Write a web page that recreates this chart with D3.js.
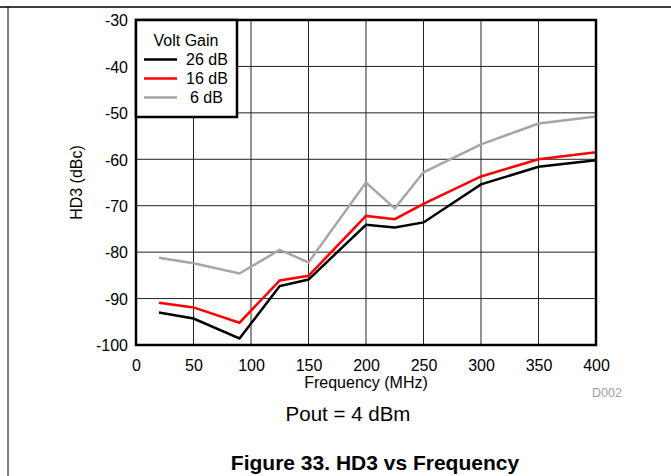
<!DOCTYPE html>
<html><head><meta charset="utf-8">
<script src="https://cdn.jsdelivr.net/npm/d3@7"></script>
<style>
body{margin:0;background:#fff;}
svg{display:block;font-family:Arial,"Liberation Sans",sans-serif;}
</style></head>
<body>
<svg id="c" width="671" height="476"></svg>
<script>
const freqs = [20, 50, 90, 125, 150, 200, 225, 250, 300, 350, 400];
const gain26 = [-93.0, -94.3, -98.6, -87.3, -85.9, -74.1, -74.7, -73.6, -65.4, -61.6, -60.2];
const gain16 = [-90.9, -91.9, -95.2, -86.1, -85.1, -72.2, -72.9, -69.6, -63.7, -60.0, -58.5];
const gain6  = [-81.2, -82.4, -84.6, -79.5, -82.2, -65.0, -70.6, -62.8, -56.8, -52.3, -50.8];
const seriesNames = ["26 dB", "16 dB", "6 dB"];
const seriesColors = ["#000000", "#ff0000", "#a6a6a6"];
const xTicks = [0, 50, 100, 150, 200, 250, 300, 350, 400];
const yTicks = [-30, -40, -50, -60, -70, -80, -90, -100];

const svg = d3.select("#c");
const L = 136, R = 596, T = 20, B = 345;
const x = d3.scaleLinear().domain([0, 400]).range([L, R]);
const y = d3.scaleLinear().domain([-100, -30]).range([B, T]);

// page border lines
svg.append("line").attr("x1", 0).attr("x2", 671).attr("y1", 7).attr("y2", 7)
  .attr("stroke", "#000").attr("stroke-width", 1.5);
svg.append("line").attr("x1", 8).attr("x2", 8).attr("y1", 7).attr("y2", 476)
  .attr("stroke", "#000").attr("stroke-width", 1);

// grid
const grid = svg.append("g");
grid.selectAll(".vg").data(xTicks).enter().append("line")
  .attr("x1", d => x(d)).attr("x2", d => x(d)).attr("y1", T).attr("y2", B)
  .attr("stroke", "#222").attr("stroke-width", 1);
grid.selectAll(".hg").data(yTicks).enter().append("line")
  .attr("x1", L).attr("x2", R).attr("y1", d => y(d)).attr("y2", d => y(d))
  .attr("stroke", "#222").attr("stroke-width", 1);

// axes (labels only)
const fmt = d => String(d);
const xAxis = d3.axisBottom(x).tickValues(xTicks).tickFormat(fmt).tickSize(0).tickPadding(0);
const gx = svg.append("g").attr("transform", `translate(0,${B})`).call(xAxis);
gx.select(".domain").remove();
gx.selectAll("text").attr("font-size", 16).attr("font-family", "Arial, Liberation Sans, sans-serif")
  .attr("fill", "#000").attr("dy", null).attr("y", 26);

const yAxis = d3.axisLeft(y).tickValues(yTicks).tickFormat(fmt).tickSize(0).tickPadding(8);
const gy = svg.append("g").attr("transform", `translate(${L},0)`).call(yAxis);
gy.select(".domain").remove();
gy.selectAll("text").attr("font-size", 16).attr("font-family", "Arial, Liberation Sans, sans-serif")
  .attr("fill", "#000").attr("dy", "0.36em");

// series
const allSeries = [gain26, gain16, gain6];
const line = d3.line().x((d, i) => x(freqs[i])).y(d => y(d));
const order = [2, 1, 0];
order.forEach(k => {
  svg.append("path").datum(allSeries[k]).attr("d", line)
    .attr("fill", "none").attr("stroke", seriesColors[k]).attr("stroke-width", 2.5)
    .attr("stroke-linejoin", "miter");
});

// frame
svg.append("rect").attr("x", L).attr("y", T).attr("width", R - L).attr("height", B - T)
  .attr("fill", "none").attr("stroke", "#000").attr("stroke-width", 2.5);

// legend
const lg = svg.append("g");
lg.append("rect").attr("x", L).attr("y", T).attr("width", 101).attr("height", 97)
  .attr("fill", "#fff").attr("stroke", "#000").attr("stroke-width", 2.5);
lg.append("text").attr("x", 186).attr("y", 46).attr("text-anchor", "middle")
  .attr("font-size", 16).text("Volt Gain");
seriesNames.forEach((n, i) => {
  const ly = 59.5 + i * 19;
  lg.append("line").attr("x1", 144).attr("x2", 177).attr("y1", ly).attr("y2", ly)
    .attr("stroke", seriesColors[i]).attr("stroke-width", 2.5);
  lg.append("text").attr("x", i === 2 ? 190 : 186).attr("y", ly + 5.8)
    .attr("font-size", 16).text(n);
});

// axis titles
svg.append("text").attr("x", (L + R) / 2).attr("y", 388).attr("text-anchor", "middle")
  .attr("font-size", 16).text("Frequency (MHz)");
svg.append("text").attr("transform", `translate(82,${(T + B) / 2}) rotate(-90)`)
  .attr("text-anchor", "middle").attr("font-size", 16).text("HD3 (dBc)");
svg.append("text").attr("x", 607).attr("y", 397).attr("text-anchor", "middle")
  .attr("font-size", 12.5).attr("fill", "#a0a0a0").text("D002");

svg.append("text").attr("x", 348).attr("y", 421).attr("text-anchor", "middle")
  .attr("font-size", 20.5).text("Pout = 4 dBm");
svg.append("text").attr("x", 375).attr("y", 470).attr("text-anchor", "middle")
  .attr("font-size", 21).attr("font-weight", "bold").text("Figure 33. HD3 vs Frequency");
</script>
</body></html>
